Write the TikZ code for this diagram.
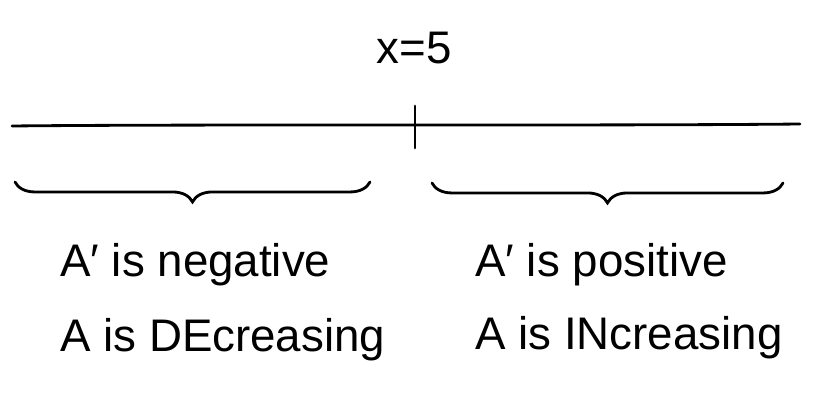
\documentclass[tikz,border=0pt]{standalone}
\usepackage{fontspec}
\setmainfont{Liberation Sans}
\usetikzlibrary{decorations.pathreplacing}
\begin{document}
\begin{tikzpicture}[x=0.03cm,y=-0.03cm,
  ink/.style={line width=2.4pt,line cap=round},
  lbl/.style={font=\fontsize{39}{42}\selectfont,inner sep=0pt,anchor=west},
  brc/.style={ink,decorate,decoration={brace,amplitude=17pt,aspect=0.5}}]
\useasboundingbox (0,0) rectangle (832,395);
\coordinate (L) at (12,126);
\coordinate (R) at (800,124);
\coordinate (Ttop) at (415,106);
\coordinate (Tbot) at (415,148);
\draw[ink] (L) .. controls (200,124) and (600,126) .. (R);
\draw[ink] (Ttop) -- (Tbot);
\node[font=\fontsize{39}{42}\selectfont,inner sep=0pt] (x5) at (414,48) {x=5};
\coordinate (b1r) at (370,182);
\coordinate (b1l) at (15,182);
\coordinate (b2r) at (783,183);
\coordinate (b2l) at (432,183);
\draw[brc] (b1r) -- (b1l);
\draw[brc] (b2r) -- (b2l);
\node[lbl] (n1) at (60,265) {A′ is negative};
\node[lbl] (n2) at (60,340) {A is DEcreasing};
\node[lbl] (n3) at (475,265) {A′ is positive};
\node[lbl] (n4) at (475,338) {A is INcreasing};
\end{tikzpicture}
\end{document}
